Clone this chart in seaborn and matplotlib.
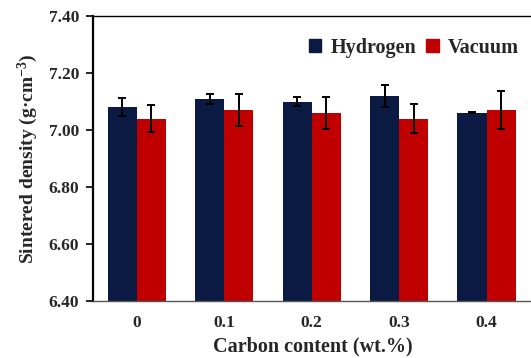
import matplotlib
matplotlib.use("Agg")
import matplotlib.pyplot as plt
import seaborn as sns
import pandas as pd
import numpy as np
from matplotlib.patches import Patch

categories = ["0", "0.1", "0.2", "0.3", "0.4"]
hydrogen = [7.08, 7.11, 7.10, 7.12, 7.06]
hydrogen_err = [0.032, 0.018, 0.017, 0.038, 0.002]
vacuum = [7.04, 7.07, 7.06, 7.04, 7.07]
vacuum_err = [0.048, 0.057, 0.056, 0.051, 0.067]
series = ["Hydrogen", "Vacuum"]
colors = ["#0b1a42", "#c00000"]
yticks = [6.40, 6.60, 6.80, 7.00, 7.20, 7.40]

sns.set_theme(style="white")
plt.rcParams["font.family"] = ["Liberation Serif", "DejaVu Serif"]
plt.rcParams["font.weight"] = "bold"
plt.rcParams["mathtext.fontset"] = "custom"
plt.rcParams["mathtext.rm"] = "Liberation Serif:bold"
plt.rcParams["mathtext.bf"] = "Liberation Serif:bold"
plt.rcParams["mathtext.it"] = "Liberation Serif:bold"

df = pd.DataFrame({
    "carbon": categories * 2,
    "density": hydrogen + vacuum,
    "err": hydrogen_err + vacuum_err,
    "atm": [series[0]] * len(categories) + [series[1]] * len(categories),
})

fig = plt.figure(figsize=(5.31, 3.58), dpi=100)
ax = fig.add_axes([93 / 531, 1 - 301 / 358, 440 / 531, (301 - 16) / 358])

sns.barplot(data=df, x="carbon", y="density", hue="atm", hue_order=series,
            order=categories, palette=colors, errorbar=None, width=0.667,
            saturation=1, ax=ax, legend=False, linewidth=0, edgecolor="none")

# error bars from the bar patches
errs = hydrogen_err + vacuum_err
vals = hydrogen + vacuum
for p, v, e in zip(list(ax.patches), vals, errs):
    xc = p.get_x() + p.get_width() / 2
    ax.errorbar(xc, v, yerr=e, color="black", capsize=3, elinewidth=1.4,
                capthick=1.4, fmt="none")

ax.set_ylim(6.40, 7.40)
ax.set_yticks(yticks)
ax.set_yticklabels([f"{t:.2f}" for t in yticks], fontsize=12.5, fontweight="bold")
ax.set_xlim(-0.5, 4.53)
ax.set_xticks(range(len(categories)))
ax.set_xticklabels(categories, fontsize=12.5, fontweight="bold")
ax.set_xticks(np.arange(-0.5, len(categories), 1.0), minor=True)
ax.tick_params(axis="x", which="major", length=0, pad=10)
ax.tick_params(axis="x", which="minor", length=3, width=0.8, direction="out", color="#555555")
ax.tick_params(axis="y", length=5, width=1.2, direction="out", color="black", pad=5, left=True)

ax.spines["left"].set_color("black")
ax.spines["left"].set_linewidth(1.6)
ax.spines["bottom"].set_linewidth(1.0)
ax.spines["bottom"].set_color("#555555")
ax.spines["top"].set_linewidth(1.0)
ax.spines["top"].set_color("black")
ax.spines["right"].set_visible(False)

ax.set_xlabel("Carbon content (wt.%)", fontsize=14.5, fontweight="bold", labelpad=4)
ax.set_ylabel("Sintered density (g·cm$^{-3}$)", fontsize=14, fontweight="bold", labelpad=6)

handles = [Patch(facecolor=c, edgecolor=c, label=s) for c, s in zip(colors, series)]
ax.legend(handles=handles, loc="upper right", bbox_to_anchor=(0.995, 0.965), ncol=2,
          frameon=False, handlelength=0.62, handleheight=0.62, handletextpad=0.45,
          columnspacing=0.5, borderaxespad=0.2,
          prop={"family": "Liberation Serif", "weight": "bold", "size": 14.5})

fig.savefig("out.png", dpi=100)
